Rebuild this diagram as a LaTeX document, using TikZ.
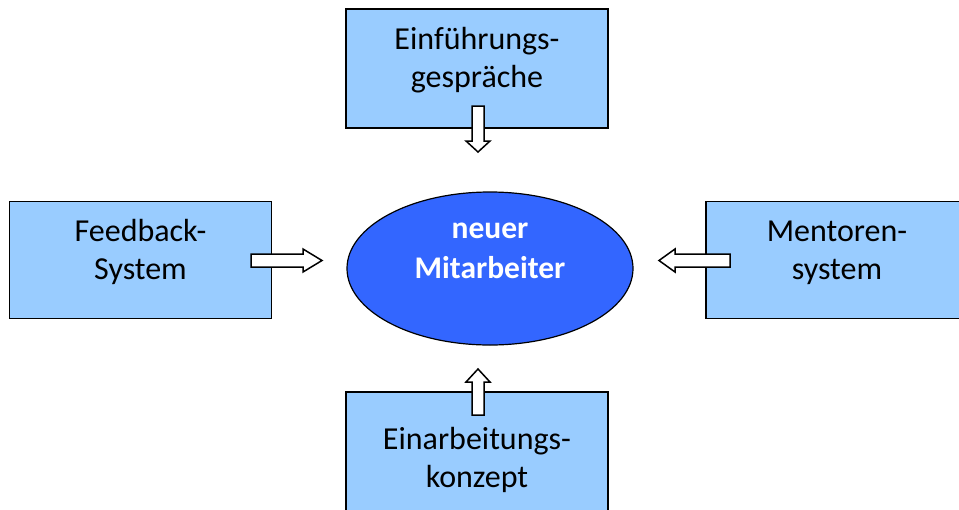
\documentclass[tikz,border=0pt]{standalone}
\usepackage{fontspec}
\setmainfont{Carlito}
\definecolor{boxfill}{RGB}{153,204,255}
\definecolor{hirefill}{RGB}{51,102,255}
% lines always sit exactly one baselineskip apart
\lineskiplimit=-200pt
% symmetric strut so that a two-line node is centred on its baselines
\newcommand\lnstrut{\vrule height 25pt depth 25pt width 0pt\relax}
\newcommand\boxlines[2]{\lnstrut #1\\\lnstrut #2}
\usetikzlibrary{shapes.geometric}
\tikzset{
  infobox/.style={draw=black, line width=1.5pt, fill=boxfill, inner sep=0pt,
    minimum width=262pt, align=center, font=\fontsize{32}{38}\selectfont},
  hireshape/.style={ellipse, draw=black, line width=1.2pt, fill=hirefill,
    inner sep=0pt, minimum width=286pt, minimum height=153pt},
  hiretext/.style={align=center, text=white, inner sep=0pt,
    font=\fontsize{31.5}{40}\selectfont\bfseries},
  blockarrow/.style={draw=black, line width=1.5pt, fill=white, line join=miter}
}
\begin{document}
\begin{tikzpicture}[x=1pt, y=-1pt]
  \clip (0,0) rectangle (959,509);
  \fill[white] (0,0) rectangle (959,509);

  % the four surrounding measures
  \node[infobox, minimum height=119pt] (intro)    at (477,68.5)  {\boxlines{Einführungs-}{gespräche}};
  \node[infobox, minimum height=117pt] (feedback) at (140.5,260) {\boxlines{Feedback-}{System}};
  \node[infobox, minimum height=117pt] (mentor)   at (837,260)   {\boxlines{Mentoren-}{system}};
  \node[infobox, minimum height=153pt] (concept)  at (477,468.5) {\boxlines{Einarbeitungs-}{konzept}};

  % the new employee in the middle
  \node[hireshape] (hire) at (490,268.5) {};
  \node[hiretext] (hirelabel) at (490,258) {\boxlines{neuer}{Mitarbeiter}};

  % block arrows pointing towards the centre
  \draw[blockarrow] (472,106) -- (484,106) -- (484,141) -- (490,141) -- (478,152)
        -- (466,141) -- (472,141) -- cycle;
  \draw[blockarrow] (251,254) -- (303,254) -- (303,249) -- (322,260.5) -- (303,272)
        -- (303,267) -- (251,267) -- cycle;
  \draw[blockarrow] (730,254) -- (675,254) -- (675,249) -- (659,260.5) -- (675,272)
        -- (675,267) -- (730,267) -- cycle;
  \draw[blockarrow] (472,415) -- (484,415) -- (484,382) -- (490,382) -- (478,369)
        -- (466,382) -- (472,382) -- cycle;
\end{tikzpicture}
\end{document}
